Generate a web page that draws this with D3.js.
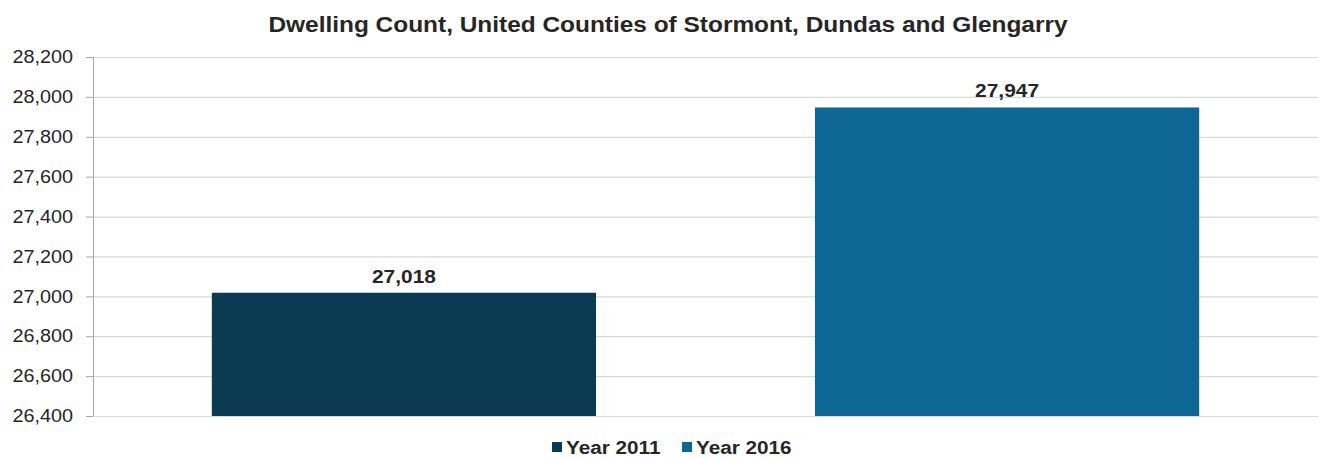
<!DOCTYPE html>
<html>
<head>
<meta charset="utf-8">
<script src="https://cdn.jsdelivr.net/npm/d3@7"></script>
<style>
  body { margin: 0; background: #fff; }
  svg { display: block; font-family: "Liberation Sans", Arial, sans-serif; }
</style>
</head>
<body>
<svg id="chart"></svg>
<script>
'use strict';

var categories = ['Year 2011', 'Year 2016'];
var values = [27018, 27947];
var colors = ['#0b3a53', '#0d6693'];
var yTicks = [26400, 26600, 26800, 27000, 27200, 27400, 27600, 27800, 28000, 28200];
var title = 'Dwelling Count, United Counties of Stormont, Dundas and Glengarry';

var svgWidth = 1320,
    svgHeight = 458;
var margin = { top: 57, right: 2, bottom: 42, left: 93 };
var width = svgWidth - margin.left - margin.right;
var height = svgHeight - margin.top - margin.bottom;

// the source chart's text runs a bit wider than Arial, so stretch it
function stretch(sel, factor) {
    sel.each(function () {
        var w = this.getComputedTextLength();
        d3.select(this)
            .attr('textLength', w * factor)
            .attr('lengthAdjust', 'spacingAndGlyphs');
    });
}

var svg = d3.select('#chart')
    .attr('width', svgWidth)
    .attr('height', svgHeight);

svg.append('text')
    .attr('x', 668)
    .attr('y', 32)
    .attr('text-anchor', 'middle')
    .attr('font-size', 22)
    .attr('font-weight', 'bold')
    .attr('fill', '#262626')
    .text(title)
    .call(stretch, 1.11);

var g = svg.append('g')
    .attr('transform', 'translate(' + margin.left + ',' + margin.top + ')');

var x = d3.scaleBand()
    .domain(categories)
    .range([0, width])
    .paddingInner(0.363)
    .paddingOuter(0.197);

var y = d3.scaleLinear()
    .domain([26400, 28200])
    .range([height, 0]);

// gridlines
g.append('g')
    .selectAll('line')
    .data(yTicks)
    .enter().append('line')
    .attr('x1', 0)
    .attr('x2', width)
    .attr('y1', function (d) { return y(d) + 0.5 })
    .attr('y2', function (d) { return y(d) + 0.5 })
    .attr('stroke', '#d9d9d9')
    .attr('stroke-width', 1.2);

// bars
g.selectAll('.bar')
    .data(values)
    .enter().append('rect')
    .attr('class', 'bar')
    .attr('x', function (d, i) { return x(categories[i]) })
    .attr('y', function (d) { return y(d) })
    .attr('width', x.bandwidth())
    .attr('height', function (d) { return height - y(d) })
    .attr('fill', function (d, i) { return colors[i] });

// value labels
g.selectAll('.label')
    .data(values)
    .enter().append('text')
    .attr('class', 'label')
    .attr('x', function (d, i) { return x(categories[i]) + x.bandwidth() / 2 })
    .attr('y', function (d) { return y(d) - 10 })
    .attr('text-anchor', 'middle')
    .attr('font-size', 19)
    .attr('font-weight', 'bold')
    .attr('fill', '#262626')
    .text(function (d) { return d3.format(',')(d) })
    .call(stretch, 1.1);

// y axis
var yAxis = g.append('g')
    .attr('class', 'axis y')
    .call(d3.axisLeft(y).tickValues(yTicks).tickFormat(d3.format(',')).tickSize(7).tickPadding(13));

yAxis.select('.domain').remove();
yAxis.selectAll('line').attr('stroke', '#a6a6a6');
yAxis.selectAll('text')
    .attr('font-size', 18)
    .attr('fill', '#262626')
    .attr('font-family', '"Liberation Sans", Arial, sans-serif')
    .call(stretch, 1.1);

g.append('line')
    .attr('x1', 0.5).attr('x2', 0.5)
    .attr('y1', 0).attr('y2', height)
    .attr('stroke', '#a6a6a6')
    .attr('stroke-width', 1);

// legend
var legendX = [552, 682];
var legend = svg.append('g')
    .selectAll('g')
    .data(categories)
    .enter().append('g')
    .attr('transform', function (d, i) { return 'translate(' + legendX[i] + ',447)' });

legend.append('rect')
    .attr('x', 0)
    .attr('y', -5)
    .attr('width', 10)
    .attr('height', 10)
    .attr('fill', function (d, i) { return colors[i] });

legend.append('text')
    .attr('x', 14)
    .attr('y', 6.5)
    .attr('font-size', 18)
    .attr('font-weight', 'bold')
    .attr('fill', '#262626')
    .text(function (d) { return d })
    .call(stretch, 1.15);
</script>
</body>
</html>
